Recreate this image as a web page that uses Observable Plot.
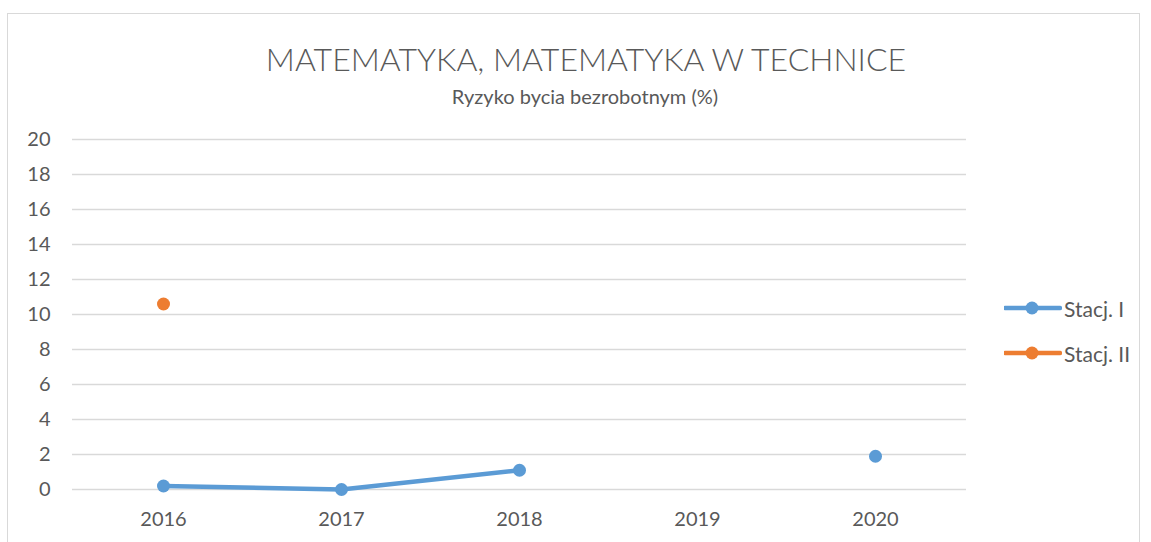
<!DOCTYPE html>
<html>
<head>
<meta charset="utf-8">
<script src="https://cdn.jsdelivr.net/npm/d3@7"></script>
<script src="https://cdn.jsdelivr.net/npm/@observablehq/plot@0.6"></script>
<style>
  html, body { margin: 0; padding: 0; background: #fff; }
  #wrap { position: relative; width: 1151px; height: 542px; overflow: hidden; font-family: Lato, "Open Sans", sans-serif; color: #595959; }
  #frame { position: absolute; left: 7px; top: 13px; width: 1133px; height: 600px; border: 1px solid #d9d9d9; box-sizing: border-box; }
  #title { position: absolute; left: 0; width: 1172px; top: 39px; text-align: center; font-size: 32px; font-weight: 300; color: #595959; white-space: nowrap; }
  #subtitle { position: absolute; left: 0; width: 1170px; top: 84px; text-align: center; font-size: 20px; color: #595959; white-space: nowrap; }
  #chart { position: absolute; left: 0; top: 0; }
  .leg { position: absolute; left: 1004px; display: flex; align-items: center; font-size: 21px; color: #595959; }
  .leg span { margin-left: 2px; }
</style>
</head>
<body>
<div id="wrap">
  <div id="frame"></div>
  <div id="chart"></div>
  <div id="title"></div>
  <div id="subtitle"></div>
  <div id="legend"></div>
</div>
<script>
const titleText = "MATEMATYKA, MATEMATYKA W TECHNICE";
const subtitleText = "Ryzyko bycia bezrobotnym (%)";
const years = ["2016", "2017", "2018", "2019", "2020"];
const seriesNames = ["Stacj. I", "Stacj. II"];
const seriesColors = ["#5b9bd5", "#ed7d31"];
const stacjI = [0.2, 0.0, 1.1, null, 1.9];
const stacjII = [10.6, null, null, null, null];
const yTicks = [0, 2, 4, 6, 8, 10, 12, 14, 16, 18, 20];

document.getElementById("title").textContent = titleText;
document.getElementById("subtitle").textContent = subtitleText;

const data = [];
[stacjI, stacjII].forEach((vals, si) => {
  years.forEach((yr, i) => data.push({series: seriesNames[si], year: yr, value: vals[i]}));
});
const defined = data.filter(d => d.value != null);

const chart = Plot.plot({
  width: 1151,
  height: 542,
  marginLeft: 72,
  marginRight: 185,
  marginTop: 139,
  marginBottom: 53,
  style: {fontFamily: "Lato, 'Open Sans', sans-serif", fontSize: "20px", color: "#595959", background: "transparent"},
  x: {type: "point", domain: years, padding: 0.5, label: null, tickSize: 0, tickPadding: 22},
  y: {domain: [0, 20], ticks: yTicks, label: null, tickSize: 0, tickPadding: 22},
  color: {domain: seriesNames, range: seriesColors},
  marks: [
    Plot.ruleY(yTicks, {stroke: "#d9d9d9", strokeWidth: 1.5, strokeOpacity: 1}),
    Plot.line(data, {x: "year", y: "value", z: "series", stroke: "series", strokeWidth: 4.5, curve: "linear"}),
    Plot.dot(defined, {x: "year", y: "value", fill: "series", r: 6.5, stroke: "none"})
  ]
});
document.getElementById("chart").appendChild(chart);

const legend = document.getElementById("legend");
const legTops = [295, 340];
seriesNames.forEach((name, i) => {
  const div = document.createElement("div");
  div.className = "leg";
  div.style.top = legTops[i] + "px";
  div.innerHTML = `<svg width="58" height="26"><line x1="1" y1="13" x2="56" y2="13" stroke="${seriesColors[i]}" stroke-width="4.5" stroke-linecap="round"/><circle cx="28" cy="13" r="6.5" fill="${seriesColors[i]}"/></svg><span>${name}</span>`;
  legend.appendChild(div);
});
</script>
</body>
</html>
